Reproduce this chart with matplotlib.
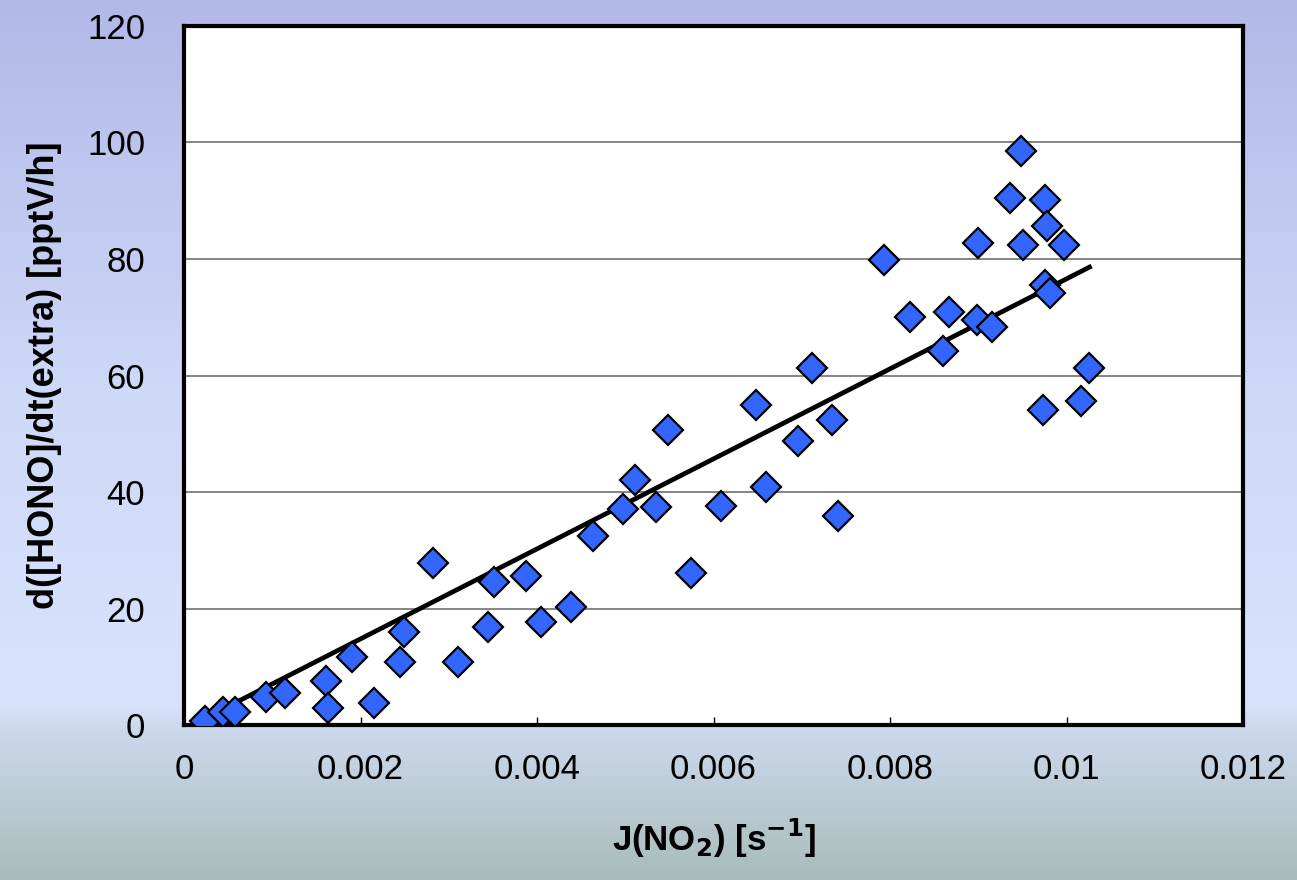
import numpy as np
import matplotlib.pyplot as plt
from matplotlib.colors import LinearSegmentedColormap

# data
jno2 = [0.00024, 0.00044, 0.00058, 0.00093, 0.00114, 0.00161, 0.00163, 0.0019,
        0.00215, 0.00249, 0.00245, 0.00282, 0.0031, 0.00344, 0.00351, 0.00388,
        0.00405, 0.00439, 0.00463, 0.00497, 0.00511, 0.00535, 0.00548, 0.00574,
        0.00608, 0.00648, 0.00659, 0.00696, 0.00711, 0.00734, 0.00741, 0.00793,
        0.00823, 0.0086, 0.00867, 0.009, 0.00898, 0.00915, 0.00936, 0.00948,
        0.00951, 0.00976, 0.00978, 0.00976, 0.00981, 0.00973, 0.00997, 0.01016,
        0.01026]
hono = [0.7, 2.2, 2.2, 4.8, 5.5, 7.6, 2.9, 11.7,
        3.8, 16.0, 10.8, 27.8, 10.8, 16.8, 24.5, 25.6,
        17.7, 20.3, 32.4, 37.1, 42.1, 37.4, 50.6, 26.1,
        37.6, 54.9, 40.9, 48.8, 61.3, 52.4, 35.9, 79.8,
        70.0, 64.2, 70.9, 82.7, 69.5, 68.3, 90.5, 98.5,
        82.4, 90.1, 85.7, 75.5, 74.2, 54.1, 82.4, 55.6,
        61.3]

# trendline as drawn in the chart
fit_slope = 7725.0
fit_intercept = -0.65

x_ticks = [0, 0.002, 0.004, 0.006, 0.008, 0.01, 0.012]
x_ticklabels = ["0", "0.002", "0.004", "0.006", "0.008", "0.01", "0.012"]
y_ticks = [0, 20, 40, 60, 80, 100, 120]

plt.rcParams['font.family'] = ['Liberation Sans', 'DejaVu Sans']

fig = plt.figure(figsize=(12.97, 8.8), dpi=100)

# slide-style background gradient
bg = fig.add_axes([0, 0, 1, 1], zorder=-10)
bg_cmap = LinearSegmentedColormap.from_list("bg", [
    (0.0, (0.70, 0.72, 0.91)),
    (0.45, (0.81, 0.85, 0.97)),
    (0.80, (0.85, 0.89, 0.99)),
    (0.83, (0.80, 0.85, 0.93)),
    (1.0, (0.66, 0.74, 0.73)),
])
grad = np.linspace(0, 1, 512).reshape(-1, 1)
bg.imshow(grad, cmap=bg_cmap, aspect='auto', extent=[0, 1, 1, 0])
bg.axis('off')

ax = fig.add_axes([0.1419, 0.176, 0.8165, 0.7945])
ax.set_facecolor('white')

xfit = np.array([min(jno2), max(jno2)])
ax.plot(xfit, fit_slope * xfit + fit_intercept, color='black', lw=3.4, zorder=3)

ax.plot(jno2, hono, linestyle='none', marker='D', markersize=15,
        markerfacecolor='#3366ff', markeredgecolor='black', markeredgewidth=1.6,
        zorder=4)

ax.set_xlim(0, 0.012)
ax.set_ylim(0, 120)
ax.set_xticks(x_ticks)
ax.set_xticklabels(x_ticklabels)
ax.set_yticks(y_ticks)
ax.yaxis.grid(True, color='#707070', lw=1.2)
ax.set_axisbelow(True)

for sp in ax.spines.values():
    sp.set_linewidth(3)
ax.tick_params(axis='x', direction='in', length=6, width=1, pad=20, labelsize=25)
ax.tick_params(axis='y', direction='in', length=0, pad=28, labelsize=25)

ax.set_xlabel(r"J(NO$_\mathbf{2}$) [s$^\mathbf{-1}$]", fontsize=25, fontweight='bold',
              labelpad=22)
ax.set_ylabel("d([HONO]/dt(extra) [pptV/h]", fontsize=26, fontweight='bold',
              labelpad=18)

fig.savefig("out.png", dpi=100)
